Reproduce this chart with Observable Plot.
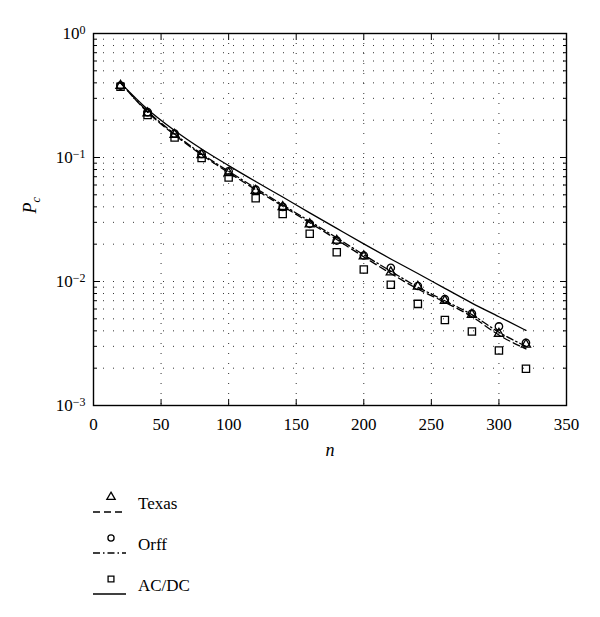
<!DOCTYPE html>
<html>
<head>
<meta charset="utf-8">
<script src="https://cdn.jsdelivr.net/npm/d3@7"></script>
<script src="https://cdn.jsdelivr.net/npm/@observablehq/plot@0.6"></script>
<style>
  html, body { margin: 0; padding: 0; background: #fff; }
  #chart svg { display: block; }
  #legend { display: block; }
  svg text { font-family: "Liberation Serif", "DejaVu Serif", serif; }
</style>
</head>
<body>
<div id="chart"></div>
<svg id="legend" width="600" height="147"></svg>
<script>
// ---- data ----
const n = [20, 40, 60, 80, 100, 120, 140, 160, 180, 200, 220, 240, 260, 280, 300, 320];
// simulated (markers)
const texasPts = [0.38, 0.228, 0.153, 0.105, 0.075, 0.054, 0.040, 0.029, 0.0214, 0.0160, 0.0119, 0.0091, 0.0070, 0.0054, 0.0038, 0.0031];
const orffPts  = [0.38, 0.232, 0.156, 0.107, 0.0775, 0.055, 0.040, 0.0292, 0.0214, 0.0162, 0.0129, 0.0092, 0.0072, 0.0055, 0.00434, 0.0032];
const acdcPts  = [0.372, 0.22, 0.145, 0.099, 0.069, 0.047, 0.035, 0.0243, 0.0172, 0.0125, 0.0094, 0.0066, 0.0049, 0.00395, 0.00278, 0.00198];
// analytical (lines)
const texasLine = [0.40, 0.232, 0.152, 0.105, 0.0755, 0.0550, 0.0405, 0.0298, 0.0218, 0.0158, 0.0116, 0.0087, 0.0068, 0.0052, 0.0037, 0.00286];
const orffLine  = [0.40, 0.236, 0.155, 0.107, 0.0775, 0.0565, 0.0415, 0.0306, 0.0225, 0.0164, 0.0121, 0.0090, 0.0070, 0.0054, 0.0039, 0.0030];
const acdcLine  = [0.40, 0.245, 0.165, 0.117, 0.086, 0.064, 0.048, 0.0358, 0.0268, 0.0201, 0.0152, 0.0116, 0.0088, 0.0067, 0.0052, 0.00403];

const seriesNames = ["Texas", "Orff", "AC/DC"];
const xTicks = [0, 50, 100, 150, 200, 250, 300, 350];
const yMajor = [1e-3, 1e-2, 1e-1, 1];
const yMinor = [];
for (const p of [1e-3, 1e-2, 1e-1]) for (let k = 2; k <= 9; k++) yMinor.push(+(k * p).toPrecision(3));
const xLabel = "n";
const yLabel = "P";
const yLabelSub = "c";

// ---- build tables ----
const pts = (vals, s) => n.map((v, i) => ({n: v, p: vals[i], s}));
const dashes = {"Texas": "7,4", "Orff": "7,3,1.5,3", "AC/DC": null};
const symbols = {"Texas": "triangle", "Orff": "circle", "AC/DC": "square"};
const radii = {"Texas": 3.4, "Orff": 3.7, "AC/DC": 4.1};
const linesData = [pts(texasLine, "Texas"), pts(orffLine, "Orff"), pts(acdcLine, "AC/DC")];
const dotsData = [pts(texasPts, "Texas"), pts(orffPts, "Orff"), pts(acdcPts, "AC/DC")];

const gridStyle = {stroke: "#000", strokeOpacity: 0.8, strokeWidth: 1, strokeDasharray: "1,9"};
const serif = "Liberation Serif, DejaVu Serif, serif";

const chart = Plot.plot({
  width: 600,
  height: 470,
  marginLeft: 93,
  marginRight: 34,
  marginTop: 33,
  marginBottom: 65,
  style: {fontFamily: serif, fontSize: "17px", color: "#000", background: "#fff"},
  x: {domain: [0, 350]},
  y: {type: "log", domain: [1e-3, 1]},
  marks: [
    Plot.ruleY([...yMinor, 1e-2, 1e-1], gridStyle),
    Plot.ruleX(xTicks.filter(d => d > 0 && d < 350), gridStyle),
    // x axis labels + inward ticks
    Plot.axisX({anchor: "bottom", ticks: xTicks, tickSize: 0, tickPadding: 12, label: null, fontSize: 17}),
    Plot.axisX({anchor: "bottom", ticks: xTicks, tickSize: -6, tickFormat: () => "", label: null}),
    Plot.axisX({anchor: "top", ticks: xTicks, tickSize: -6, tickFormat: () => "", label: null}),
    // y axis labels + inward ticks
    Plot.axisY({anchor: "left", ticks: yMajor, tickSize: 0, tickPadding: 8, label: null,
      tickFormat: d => String(Math.round(Math.log10(d))), fontSize: 17}),
    Plot.axisY({anchor: "left", ticks: yMajor, tickSize: -7, tickFormat: () => "", label: null}),
    Plot.axisY({anchor: "left", ticks: yMinor, tickSize: -4, tickFormat: () => "", label: null}),
    Plot.axisY({anchor: "right", ticks: yMajor, tickSize: -7, tickFormat: () => "", label: null}),
    Plot.axisY({anchor: "right", ticks: yMinor, tickSize: -4, tickFormat: () => "", label: null}),
    Plot.frame({stroke: "#000", strokeWidth: 1.4}),
    // analytical curves
    ...linesData.map(d => Plot.line(d, {x: "n", y: "p", stroke: "#000", strokeWidth: 1.3,
      strokeDasharray: dashes[d[0].s], curve: "monotone-x"})),
    // simulated markers
    ...dotsData.map(d => Plot.dot(d, {x: "n", y: "p", symbol: () => symbols[d[0].s],
      r: radii[d[0].s], stroke: "#000", fill: "none", strokeWidth: 1.3})),
    // axis titles
    Plot.text([xLabel], {frameAnchor: "bottom", dy: 50, text: d => d, fontStyle: "italic", fontSize: 18}),
    Plot.text([yLabel], {frameAnchor: "left", dx: -63, dy: -6, rotate: -90, text: d => d,
      fontStyle: "italic", fontSize: 18, className: "ylab"})
  ]
});
chart.setAttribute("font-family", serif);
document.getElementById("chart").appendChild(chart);

const svg = d3.select(chart);
// remove the empty label texts of tick-only axes
svg.selectAll("text").each(function() {
  if (this.textContent === "" && !this.querySelector("tspan")) this.remove();
});
// superscript exponents on the y tick labels
svg.selectAll('g[aria-label="y-axis tick label"] text').each(function() {
  const k = this.textContent;
  if (!k) return;
  const t = d3.select(this);
  t.text("10");
  t.append("tspan").attr("dy", "-0.45em").attr("font-size", "12px")
    .text(k.replace("-", "\u2212"));
});
// subscript on P_c
svg.selectAll(".ylab text").each(function() {
  d3.select(this).append("tspan").attr("dy", "0.35em").attr("font-size", "12px").text(yLabelSub);
});

// ---- legend ----
const lg = d3.select("#legend");
const rows = [27, 68, 109];
const symMap = {"Texas": d3.symbolTriangle, "Orff": d3.symbolCircle, "AC/DC": d3.symbolSquare};
const symSize = {"Texas": 30, "Orff": 30, "AC/DC": 34};
seriesNames.forEach((name, i) => {
  const y0 = rows[i];
  lg.append("path")
    .attr("d", d3.symbol(symMap[name], symSize[name])())
    .attr("transform", `translate(111,${y0})`)
    .attr("fill", "none").attr("stroke", "#000").attr("stroke-width", 1.3);
  lg.append("line")
    .attr("x1", 93).attr("x2", 126).attr("y1", y0 + 15).attr("y2", y0 + 15)
    .attr("stroke", "#000").attr("stroke-width", 1.3)
    .attr("stroke-dasharray", dashes[name]);
  lg.append("text")
    .attr("x", 138).attr("y", y0 + 12)
    .attr("font-family", serif).attr("font-size", 17).attr("fill", "#000")
    .text(name);
});
</script>
</body>
</html>
